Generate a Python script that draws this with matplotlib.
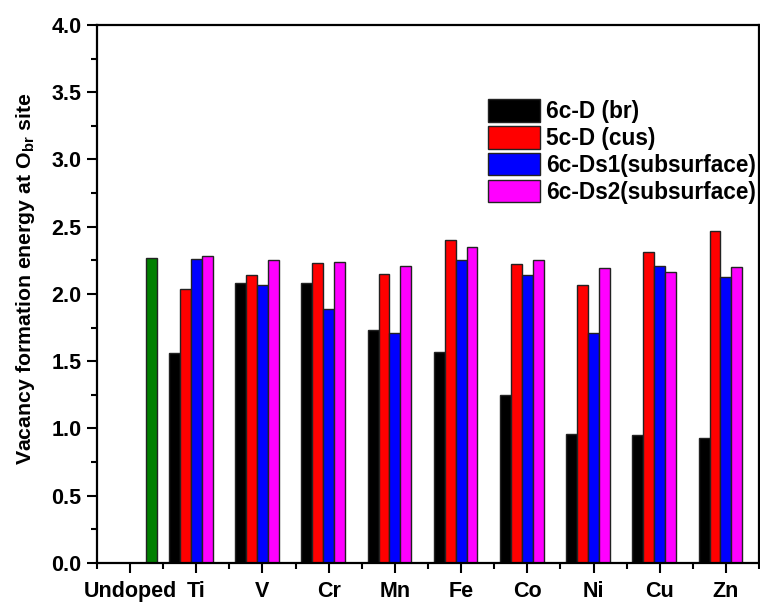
import numpy as np
import matplotlib.pyplot as plt
from matplotlib.ticker import MultipleLocator

plt.rcParams['font.family'] = ['Liberation Sans', 'DejaVu Sans']
plt.rcParams['font.weight'] = 'bold'
plt.rcParams['axes.labelweight'] = 'bold'
plt.rcParams['mathtext.fontset'] = 'custom'
plt.rcParams['mathtext.rm'] = 'Liberation Sans'
plt.rcParams['mathtext.bf'] = 'Liberation Sans:bold'
plt.rcParams['mathtext.default'] = 'bf'

# dopants and vacancy formation energies (eV)
dopants = ['Undoped', 'Ti', 'V', 'Cr', 'Mn', 'Fe', 'Co', 'Ni', 'Cu', 'Zn']
undoped = 2.27
br_6c = [1.56, 2.08, 2.08, 1.73, 1.57, 1.25, 0.96, 0.95, 0.93]
cus_5c = [2.04, 2.14, 2.23, 2.15, 2.40, 2.22, 2.07, 2.31, 2.47]
ds1_6c = [2.26, 2.07, 1.89, 1.71, 2.25, 2.14, 1.71, 2.21, 2.13]
ds2_6c = [2.28, 2.25, 2.24, 2.21, 2.35, 2.25, 2.19, 2.16, 2.20]

labels = ['6c-D (br)', '5c-D (cus)', '6c-Ds1(subsurface)', '6c-Ds2(subsurface)']
colors = ['#000000', '#ff0000', '#0000ff', '#ff00ff']

fig = plt.figure(figsize=(7.6, 6.02), dpi=100)
ax = fig.add_axes([0.1276, 0.0648, 0.8711, 0.8937])

x = np.arange(len(dopants))
w = 0.165
doped_x = x[1:]
for i, (vals, lab, c) in enumerate(zip([br_6c, cus_5c, ds1_6c, ds2_6c], labels, colors)):
    ax.bar(doped_x + (i - 2) * w, vals, width=w, color=c, edgecolor='#222222',
           linewidth=1.0, label=lab)
ax.bar(x[0] + 2 * w, undoped, width=w, color='#008000', edgecolor='#222222', linewidth=1.0)

ax.set_xlim(-0.5, 9.5)
ax.set_ylim(0, 4.0)
ax.set_xticks(x)
ax.set_xticklabels(dopants)
ax.xaxis.set_minor_locator(MultipleLocator(1, offset=0.5))
ax.yaxis.set_major_locator(MultipleLocator(0.5))
ax.yaxis.set_minor_locator(MultipleLocator(0.25))
ax.tick_params(axis='both', which='major', direction='out', length=7, width=1.5,
               labelsize=15.5)
ax.tick_params(axis='both', which='minor', direction='out', length=4, width=1.5)
ax.tick_params(axis='x', pad=6)
ax.tick_params(axis='y', pad=4)
for s in ax.spines.values():
    s.set_linewidth(1.6)

ax.set_ylabel('Vacancy formation energy at O$_{br}$ site', fontsize=15.3)
ax.yaxis.set_label_coords(-0.09, 0.528)

ax.legend(loc='upper left', bbox_to_anchor=(0.59, 0.862), frameon=False,
          fontsize=16.3, handlelength=2.3, handleheight=1.15, labelspacing=0.13,
          handletextpad=0.3, borderaxespad=0, borderpad=0)

fig.savefig('out.png', dpi=100)
